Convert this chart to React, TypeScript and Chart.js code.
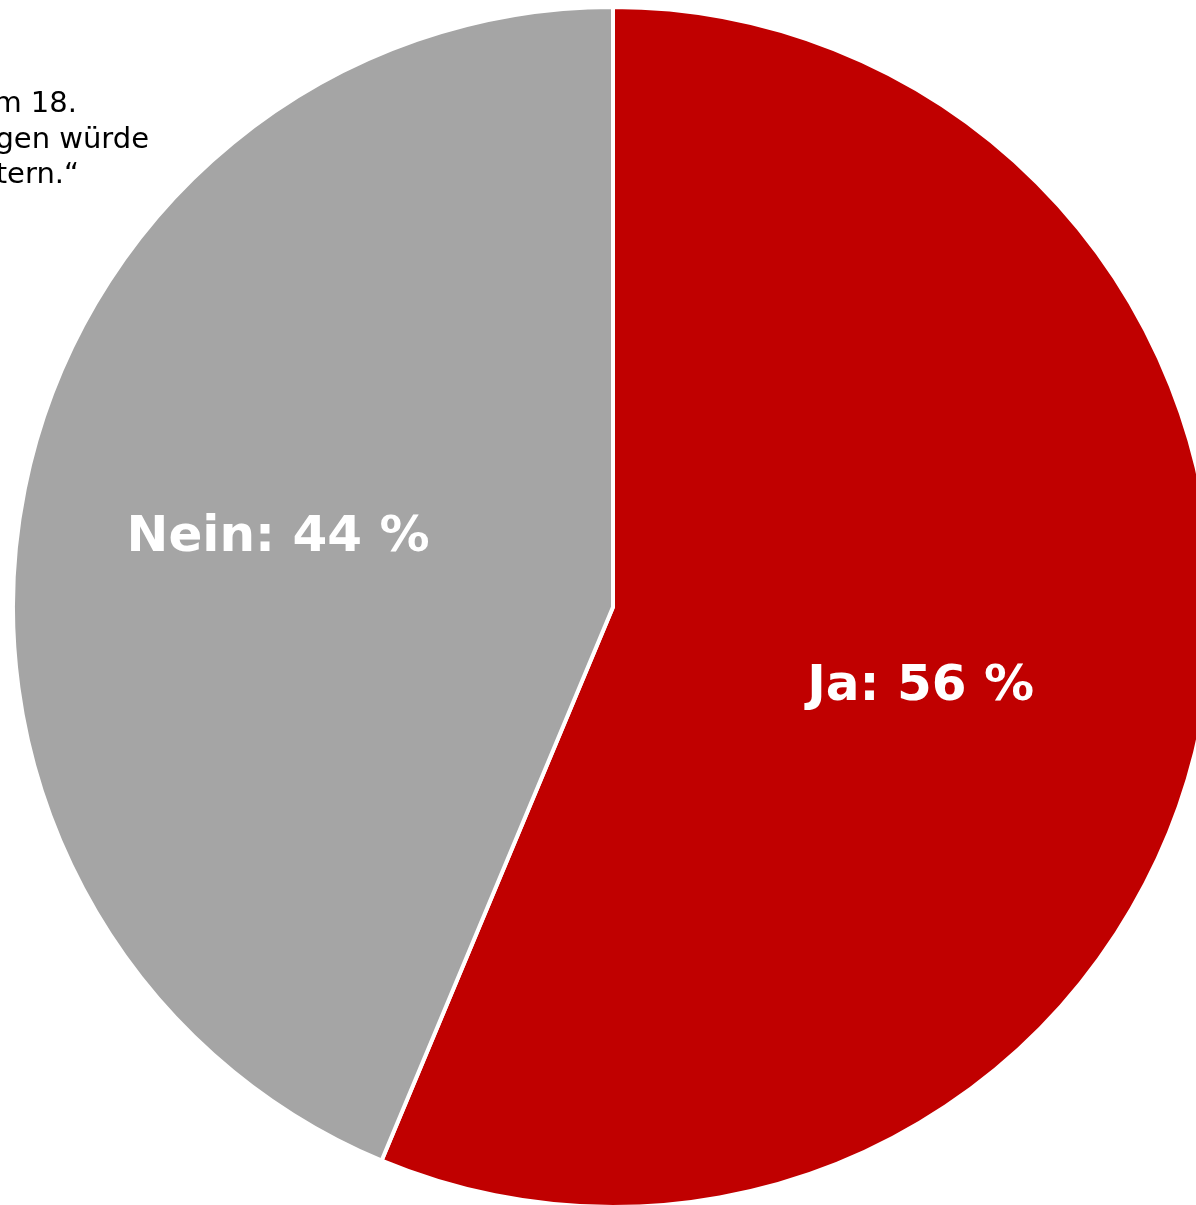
import React, { useEffect, useRef } from "react";
import { Chart, registerables } from "chart.js";

Chart.register(...registerables);

const categories = ["Ja", "Nein"];
const shares = [56.3, 43.7];
const sliceColors = ["#C00000", "#A5A5A5"];
const noteLines = ["m 18.", "gen würde", "tern.\u201C"];
const noteLineEnds = [77, 149, 79];
const noteLineBaselines = [112, 148, 183];
const labelRadius = [0.53, 0.57];
const labelAngleShift = [3.3, 0.3];

const labelPlugin = {
  id: "sliceLabels",
  afterDatasetsDraw(chart: any) {
    const ctx = chart.ctx;
    const meta = chart.getDatasetMeta(0);
    ctx.save();
    ctx.font = "bold 50px 'DejaVu Sans'";
    ctx.fillStyle = "#FFFFFF";
    ctx.textAlign = "center";
    ctx.textBaseline = "middle";
    meta.data.forEach((arc: any, i: number) => {
      const p = arc.getProps(["x", "y", "startAngle", "endAngle", "outerRadius"], true);
      const mid = (p.startAngle + p.endAngle) / 2 + (labelAngleShift[i] * Math.PI) / 180;
      const r = p.outerRadius * labelRadius[i];
      const x = p.x + Math.cos(mid) * r;
      const y = p.y + Math.sin(mid) * r;
      ctx.fillText(`${categories[i]}: ${Math.round(shares[i])} %`, x, y);
    });
    ctx.restore();
  },
};

export default function App() {
  const ref = useRef<HTMLCanvasElement | null>(null);
  useEffect(() => {
    if (!ref.current) return;
    const chart = new Chart(ref.current, {
      type: "pie",
      data: {
        labels: categories,
        datasets: [
          {
            data: shares,
            backgroundColor: sliceColors,
            borderColor: "#FFFFFF",
            borderWidth: 4,
          },
        ],
      },
      options: {
        responsive: false,
        animation: false,
        devicePixelRatio: 1,
        layout: { padding: 0 },
        plugins: { legend: { display: false }, tooltip: { enabled: false }, title: { display: false } },
      },
      plugins: [labelPlugin],
    });
    return () => chart.destroy();
  }, []);

  return (
    <div
      style={{
        position: "fixed",
        left: 0,
        top: 0,
        width: 1196,
        height: 1205,
        overflow: "hidden",
        background: "#FFFFFF",
      }}
    >
      <canvas
        ref={ref}
        width={1204}
        height={1204}
        style={{ position: "absolute", left: 11, top: 5, width: 1204, height: 1204 }}
      />
      {noteLines.map((t, i) => (
        <div
          key={i}
          style={{
            position: "absolute",
            right: 1196 - noteLineEnds[i],
            top: noteLineBaselines[i] - 27,
            fontFamily: "'DejaVu Sans', sans-serif",
            fontSize: 29,
            lineHeight: "34px",
            whiteSpace: "nowrap",
            color: "#000000",
          }}
        >
          {t}
        </div>
      ))}
    </div>
  );
}
